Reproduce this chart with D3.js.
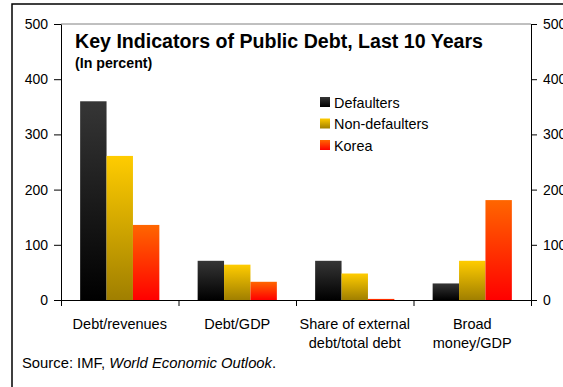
<!DOCTYPE html>
<html>
<head>
<meta charset="utf-8">
<script src="https://cdn.jsdelivr.net/npm/d3@7"></script>
<style>
  html, body { margin: 0; padding: 0; background: #fff; }
  svg { display: block; font-family: "Liberation Sans", Arial, sans-serif; }
</style>
</head>
<body>
<svg id="chart" width="563" height="387"></svg>
<script>
// Indicator groups along the horizontal axis
const categories = ["Debt/revenues", "Debt/GDP", "Share of external\ndebt/total debt", "Broad\nmoney/GDP"];
// Country groups, one bar each per indicator
const seriesNames = ["Defaulters", "Non-defaulters", "Korea"];
const defaulters = [360, 71, 71, 30];
const nonDefaulters = [261, 64, 48, 71];
const korea = [136, 33, 2, 181];
const yTicks = [0, 100, 200, 300, 400, 500];

const seriesValues = [defaulters, nonDefaulters, korea];
// Vertical gradient stops (top colour, bottom colour) per series
const gradients = [["#363636", "#000000"], ["#ffcc00", "#a07f00"], ["#ff6600", "#ff0000"]];

const svg = d3.select("#chart");

// Outer frame around the chart
svg.append("rect")
  .attr("x", 12).attr("y", 4).attr("width", 600).attr("height", 420)
  .attr("fill", "none").attr("stroke", "#000").attr("stroke-width", 1.5);

const plot = { left: 61, right: 531, top: 24, bottom: 300 };

const y = d3.scaleLinear().domain([0, 500]).range([plot.bottom, plot.top]);
const x0 = d3.scaleBand().domain(categories).range([plot.left, plot.right]).padding(0);
const x1 = d3.scaleBand().domain(seriesNames).range([0, x0.bandwidth()])
  .paddingInner(0).paddingOuter(0.725);

// Gradient definitions
const defs = svg.append("defs");
seriesNames.forEach((name, i) => {
  const g = defs.append("linearGradient")
    .attr("id", "grad" + i)
    .attr("x1", 0).attr("y1", 0).attr("x2", 0).attr("y2", 1);
  g.append("stop").attr("offset", "0%").attr("stop-color", gradients[i][0]);
  g.append("stop").attr("offset", "100%").attr("stop-color", gradients[i][1]);
});

// Top border of the plot area
svg.append("line")
  .attr("x1", plot.left).attr("x2", plot.right)
  .attr("y1", plot.top).attr("y2", plot.top)
  .attr("stroke", "#808080").attr("stroke-width", 1);

// Bars
const groups = svg.append("g").selectAll("g")
  .data(categories)
  .join("g")
  .attr("transform", d => `translate(${x0(d)},0)`);

groups.selectAll("rect")
  .data((c, ci) => seriesNames.map((s, si) => ({ s, si, v: seriesValues[si][ci] })))
  .join("rect")
  .attr("x", d => x1(d.s))
  .attr("width", x1.bandwidth())
  .attr("y", d => y(d.v))
  .attr("height", d => y(0) - y(d.v))
  .attr("fill", d => `url(#grad${d.si})`);

// Left axis
const leftAxis = svg.append("g")
  .attr("transform", `translate(${plot.left},0)`)
  .call(d3.axisLeft(y).tickValues(yTicks).tickSize(7).tickSizeOuter(0).tickPadding(6));

// Right axis
const rightAxis = svg.append("g")
  .attr("transform", `translate(${plot.right},0)`)
  .call(d3.axisRight(y).tickValues(yTicks).tickSize(6).tickSizeOuter(0).tickPadding(6));

// Bottom axis with ticks between the indicator groups
const xb = d3.scaleLinear().domain([0, categories.length]).range([plot.left, plot.right]);
const bottomAxis = svg.append("g")
  .attr("transform", `translate(0,${plot.bottom})`)
  .call(d3.axisBottom(xb).ticks(categories.length).tickFormat("").tickSize(6).tickSizeOuter(0));

[leftAxis, rightAxis, bottomAxis].forEach(a => {
  a.selectAll("path, line").attr("stroke", "#000").attr("stroke-width", 1);
  a.selectAll("text").attr("font-size", 14).attr("fill", "#000")
    .attr("font-family", "Liberation Sans, Arial, sans-serif");
});

// Category labels, one or two lines each
const catLabels = svg.append("g");
categories.forEach(c => {
  const t = catLabels.append("text")
    .attr("x", x0(c) + x0.bandwidth() / 2)
    .attr("y", 329)
    .attr("text-anchor", "middle")
    .attr("font-size", 14.5)
    .attr("fill", "#000");
  c.split("\n").forEach((line, i) => {
    t.append("tspan").attr("x", x0(c) + x0.bandwidth() / 2).attr("dy", i === 0 ? 0 : 19).text(line);
  });
});

// Title and subtitle
svg.append("text")
  .attr("x", 75).attr("y", 48)
  .attr("font-size", 19.6).attr("font-weight", "bold")
  .text("Key Indicators of Public Debt, Last 10 Years");
svg.append("text")
  .attr("x", 75).attr("y", 68)
  .attr("font-size", 14.2).attr("font-weight", "bold")
  .text("(In percent)");

// Legend
const legend = svg.append("g").attr("transform", "translate(320,97)");
seriesNames.forEach((name, i) => {
  const row = legend.append("g").attr("transform", `translate(0,${i * 21.5})`);
  row.append("rect").attr("width", 10).attr("height", 10).attr("fill", `url(#grad${i})`);
  row.append("text").attr("x", 14).attr("y", 10.5).attr("font-size", 14.4).text(name);
});

// Source note
const src = svg.append("text").attr("x", 22).attr("y", 368).attr("font-size", 14.8);
src.append("tspan").text("Source: IMF, ");
src.append("tspan").attr("font-style", "italic").text("World Economic Outlook");
src.append("tspan").text(".");
</script>
</body>
</html>
